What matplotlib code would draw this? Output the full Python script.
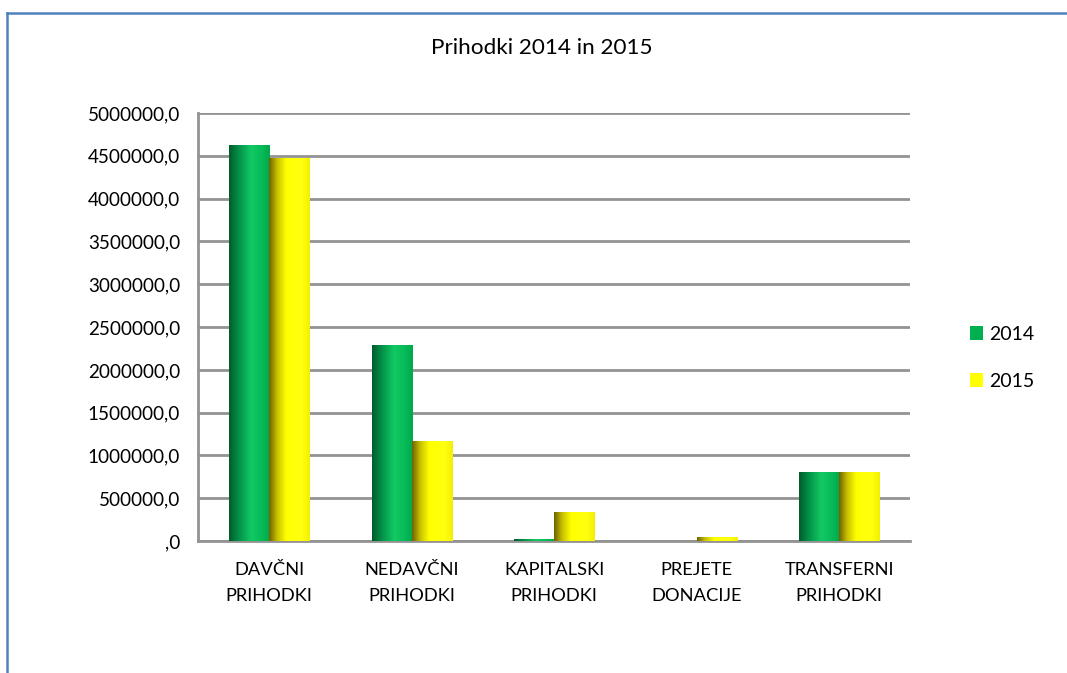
import numpy as np
import matplotlib
matplotlib.use("Agg")
import matplotlib.pyplot as plt
from matplotlib.colors import LinearSegmentedColormap
from matplotlib.patches import Patch
from matplotlib.ticker import FuncFormatter, MultipleLocator

plt.rcParams['font.family'] = ['Lato', 'DejaVu Sans']

categories = ["DAVČNI\nPRIHODKI", "NEDAVČNI\nPRIHODKI", "KAPITALSKI\nPRIHODKI",
              "PREJETE\nDONACIJE", "TRANSFERNI\nPRIHODKI"]
series_names = ["2014", "2015"]
values_2014 = [4630000, 2290000, 30000, 0, 802000]
values_2015 = [4475000, 1172000, 342000, 43000, 810000]
title = "Prihodki 2014 in 2015"

colors = ["#00b050", "#ffff00"]
cmaps = [
    LinearSegmentedColormap.from_list("g", [(0, "#005c2a"), (0.25, "#04934a"), (0.55, "#12c964"),
                                             (0.8, "#07bb58"), (1, "#00a84c")]),
    LinearSegmentedColormap.from_list("y", [(0, "#6e6200"), (0.2, "#c8c000"), (0.42, "#ffff00"),
                                             (0.8, "#ffff10"), (1, "#f2f000")]),
]

fig = plt.figure(figsize=(10.67, 6.73), dpi=100)
ax = fig.add_axes([0.1856, 0.196, 0.6675, 0.636])

x = np.arange(len(categories))
w = 0.282
grad = np.linspace(0, 1, 256).reshape(1, -1)
for i, (vals, col, cm) in enumerate(zip([values_2014, values_2015], colors, cmaps)):
    bars = ax.bar(x + (i - 0.5) * w, vals, width=w, color=col, zorder=3, linewidth=0)
    for b in bars:
        if b.get_height() <= 0:
            continue
        x0, y0 = b.get_x(), b.get_y()
        im = ax.imshow(grad, cmap=cm, aspect='auto', zorder=4,
                       extent=(x0, x0 + b.get_width(), y0, y0 + b.get_height()))
        im.set_clip_path(b)

ax.set_xlim(-0.5, len(categories) - 0.5)
ax.set_ylim(0, 5000000)
ax.yaxis.set_major_locator(MultipleLocator(500000))
ax.yaxis.set_major_formatter(FuncFormatter(lambda v, p: ",0" if v == 0 else f"{int(v)},0"))
ax.set_xticks(x)
ax.set_xticklabels(categories, fontsize=13.2, linespacing=1.8)
ax.tick_params(axis='y', labelsize=13.6, length=0, pad=13)
ax.tick_params(axis='x', length=0, pad=15)
ax.grid(axis='y', color="#939393", linewidth=2, zorder=0)
for s in ["top", "right"]:
    ax.spines[s].set_visible(False)
for s in ["left", "bottom"]:
    ax.spines[s].set_color("#939393")
    ax.spines[s].set_linewidth(2)

fig.text(0.5075, 0.928, title, ha='center', va='center', fontsize=16.2)

handles = [Patch(facecolor=c, edgecolor='none') for c in colors]
fig.legend(handles, series_names, loc='center left', bbox_to_anchor=(0.8925, 0.468),
           frameon=False, fontsize=14, handlelength=0.7, handleheight=0.7,
           handletextpad=0.3, labelspacing=1.55)

# outer frame (top and left edges)
fig.add_artist(plt.Line2D([0.0066, 1.0], [0.9807, 0.9807], color="#4f81bd", linewidth=1.8,
                          transform=fig.transFigure))
fig.add_artist(plt.Line2D([0.0066, 0.0066], [0.0, 0.9807], color="#4f81bd", linewidth=1.8,
                          transform=fig.transFigure))

fig.savefig("out.png", dpi=100)
